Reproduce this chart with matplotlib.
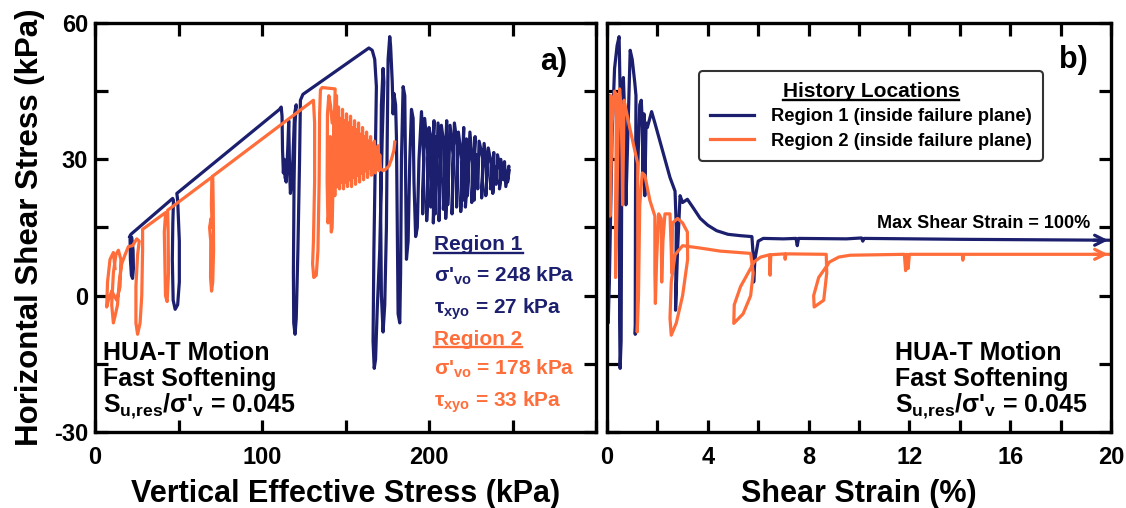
import numpy as np
import matplotlib.pyplot as plt
from matplotlib.lines import Line2D

plt.rcParams['font.family'] = ['Liberation Sans', 'DejaVu Sans']
plt.rcParams['font.weight'] = 'bold'
plt.rcParams['mathtext.fontset'] = 'custom'
plt.rcParams['mathtext.rm'] = 'Liberation Sans:bold'
plt.rcParams['mathtext.it'] = 'Liberation Sans:bold'
plt.rcParams['mathtext.bf'] = 'Liberation Sans:bold'
plt.rcParams['mathtext.sf'] = 'Liberation Sans:bold'

NAVY = '#1c1f6e'
ORANGE = '#ff6e3a'

# (a) stress path, Region 1: (vertical effective stress kPa, shear stress kPa)
r1_path = [
    (248, 27.5), (247, 25), (247.8, 28.5), (246, 24), (245.2, 29.5), (244.5, 25.5),
    (243, 30), (242.2, 23.5), (243.2, 27), (241, 31), (240.2, 24.5), (239, 28.5),
    (238.2, 22.5), (238.8, 31.5), (236.8, 23.5), (237.2, 29), (235.5, 32.5), (234, 22),
    (234.8, 27), (233, 33.5), (231.5, 21.5), (232.3, 30), (230, 34), (229.2, 23.5),
    (228.2, 31), (227, 21), (227.6, 35), (225.6, 20.5), (226, 29), (224.5, 36),
    (223, 22), (223.8, 32), (221.8, 19.5), (222.4, 34.5), (220.2, 21), (220.8, 37),
    (219, 18.5), (219.6, 30), (217.6, 36), (216.5, 19.5), (217, 33), (215.2, 38),
    (213.8, 18), (214.4, 31), (212.6, 37.5), (211.2, 20), (211.6, 35), (210, 17),
    (210.6, 38.5), (208.6, 19), (209, 33), (207.4, 37.5), (206, 16.5), (206.8, 30),
    (205.4, 38), (203.8, 18), (204.2, 35), (202.6, 16), (203, 38.5), (201, 19.5),
    (201.6, 34), (200, 37), (198.6, 16.5), (199.4, 31), (197.4, 39), (196.2, 18),
    (196.8, 30), (195.5, 40.5),
    (194, 30), (193, 15), (192, 13), (191, 25), (190.5, 39), (189.5, 41), (188.5, 30),
    (187.5, 12), (186.5, 8), (186, 25), (185.5, 44), (184.5, 46), (183.5, 30), (183, 5),
    (182.5, -6), (181.5, -4), (181, 15), (180.5, 35), (180, 42), (179, 44.5), (178.5, 40),
    (178, 47), (177, 55), (176.5, 57), (175.5, 52), (175, 35), (174.5, 15), (173.5, -2),
    (172.5, -8), (171.5, 0), (171, 20), (171.5, 42), (172.5, 50), (173, 47), (172, 35),
    (170.5, 10), (169, -3), (168, -14), (167.2, -16), (166.5, -10), (167, 10), (168, 35),
    (168.5, 46), (167.5, 52), (166, 54), (164, 54.5), (124.5, 44.3), (123, 43),
    (122.5, 30), (121.5, 10), (120.5, -5), (119.8, -8.5), (119, -6), (118.8, 5),
    (119.2, 25), (119.8, 38), (120.5, 42), (119.5, 40), (118.5, 30), (117.5, 24),
    (117, 22.5), (116.5, 28), (116, 38.5), (115.5, 33), (114.5, 25), (113.8, 26),
    (113.3, 30), (112.8, 27), (112.3, 32), (112, 39.5), (111.5, 41.5), (110.5, 41),
    (49, 22.5), (49.5, 21), (50.5, 12), (50.5, 3), (49.5, -2), (48, -3), (46.8, -1),
    (46.3, 8), (46.6, 16), (47, 21), (46.5, 21.4), (21.5, 13.5), (21, 12.5), (21.2, 8),
    (21.8, 4.5), (22.5, 3.8), (23, 6), (22.8, 10), (22, 12.8), (20.8, 13),
]

# (a) stress path, Region 2
r2_path = [
    (179.5, 33.8), (179, 32), (177.5, 30), (176, 28.5), (174, 27.8), (172.5, 27.5),
    (171, 28), (170.5, 31), (170, 27.5), (169.5, 33), (169, 28), (168.5, 32),
    (167.8, 27), (167.3, 34), (166.8, 28.5), (166.2, 33.5), (165.5, 26.5), (165, 35),
    (164.4, 28), (163.8, 34), (163.2, 26), (162.6, 36), (162, 27.5), (161.4, 35),
    (160.8, 25.5), (160.2, 37), (159.6, 27), (159, 35.5), (158.4, 25), (157.8, 38),
    (157.2, 26.5), (156.6, 36.5), (156, 24.5), (155.4, 38.5), (154.8, 26), (154.2, 37),
    (153.6, 24), (153, 39.5), (152.4, 25.5), (151.8, 38), (151.2, 24), (150.6, 40),
    (150, 25), (149.4, 38.5), (148.8, 23.5), (148.2, 41), (147.6, 25), (147, 39),
    (146.4, 23.5), (145.8, 41.5), (145.2, 24), (144.6, 44), (144, 30), (143.6, 22),
    (143, 40), (142.5, 24), (142, 15), (141.5, 14), (141, 20), (140.8, 35), (140.5, 28),
    (140, 18), (139.5, 16), (139, 25), (139.2, 40), (140, 44), (141, 42), (142, 38),
    (143.5, 41), (143.8, 45.5), (136, 45.8), (135, 45.3), (134.5, 40), (134.2, 25),
    (133.5, 10), (132.5, 4.5), (131, 4), (130.3, 7), (130.8, 12), (131.5, 25),
    (131.5, 38), (130.8, 43), (70.5, 26.3), (70.8, 20), (71, 10), (70.5, 3),
    (69.8, 1), (69.2, 4), (69.3, 12), (68.6, 15), (69.5, 17), (70.2, 15), (69.7, 20),
    (70, 26.1), (43.5, 18.8), (43.8, 14), (44, 5), (43.2, -1.3), (42.2, 0), (41.8, 8),
    (41.5, 14), (42.3, 18.3), (28.5, 14.6), (28.5, 10), (28, 0), (27, -6),
    (25.5, -8.5), (24.5, -6), (24.5, 2), (25.5, 9), (26.5, 12), (25, 12.5),
    (22.5, 11), (20, 10.8), (18, 9), (16, 7), (14.5, 3), (13.5, -2), (12, -4.5),
    (11, -6), (10, -2), (11, 5), (12.5, 9), (14, 10), (15.5, 8), (15, 2), (13, -1),
    (10, 1), (8, -1), (7, -2.5), (7.5, 3), (9, 8), (11, 9.5), (12, 6),
]

# (b) stress-strain, Region 1: (shear strain %, shear stress kPa)
r1_strain = [
    (0, 27), (0.05, 35), (0.1, 44), (0.15, 40), (0.08, 20), (0.05, -6), (0.1, 5),
    (0.2, 35), (0.3, 50), (0.4, 55), (0.48, 57), (0.52, 45), (0.5, 20), (0.5, -5),
    (0.52, -16), (0.56, -10), (0.58, 20), (0.6, 42), (0.65, 48), (0.7, 40), (0.75, 20),
    (0.8, 30), (0.92, 54), (1.0, 52), (1.1, 47), (1.15, 44), (1.13, 20), (1.12, -8.5),
    (1.17, -2), (1.2, 25), (1.3, 42), (1.36, 43), (1.4, 38), (1.43, 25), (1.47, 40),
    (1.5, 22), (1.55, 38), (1.6, 37), (1.77, 40.5), (1.9, 38), (2.1, 34), (2.3, 30),
    (2.5, 26), (2.7, 23), (2.75, 15), (2.72, -3.2), (2.8, 10), (2.9, 22), (3.0, 20.5),
    (3.19, 21.2), (3.4, 19.5), (3.7, 17), (4.0, 15.5), (4.35, 14.3), (4.8, 13.5),
    (5.3, 13.2), (5.75, 13), (5.8, 9), (5.82, 3), (5.87, 8), (6.0, 12), (6.2, 12.6),
    (7.0, 12.5), (7.5, 12.6), (7.55, 11), (7.6, 12.6), (9.5, 12.5), (10.1, 12.7),
    (10.15, 12.0), (10.2, 12.6), (14, 12.4), (17, 12.3), (20, 12.2),
]

# (b) stress-strain, Region 2
r2_strain = [
    (0, 33), (0.05, 20), (0.1, 40), (0.15, 44), (0.08, 25), (0.12, 17.5), (0.2, 38),
    (0.3, 45), (0.38, 44), (0.34, 20), (0.34, 4), (0.38, 15), (0.45, 40), (0.5, 45.5),
    (0.55, 42), (0.6, 30), (0.62, 20), (0.68, 43), (0.75, 41), (0.9, 37), (1.1, 32),
    (1.22, 29), (1.22, 10), (1.2, -8), (1.25, 0), (1.3, 20), (1.4, 27), (1.5, 26.5),
    (1.7, 21), (1.9, 17.5), (1.9, 5), (1.92, -1.7), (1.97, 8), (2.05, 18), (2.15, 17),
    (2.17, 3), (2.22, 12), (2.3, 18), (2.5, 18), (2.55, 10), (2.57, 5), (2.6, 16),
    (2.8, 17), (3.0, 16), (3.19, 14), (3.2, 8), (3.0, 0), (2.75, -6), (2.55, -8.7),
    (2.5, -5), (2.55, 3), (2.7, 9), (3.0, 11), (3.67, 10.5), (4.5, 9.8), (5.7, 9.3),
    (5.8, 5), (5.7, 0), (5.4, -4), (5.03, -6.1), (5.05, -2), (5.3, 2), (5.6, 5),
    (5.85, 7.5), (6.1, 8.5), (6.45, 9), (6.47, 4.5), (6.5, 9), (7.05, 9.2), (7.07, 8),
    (7.1, 9.2), (8.7, 9.1), (8.72, 5), (8.6, -1), (8.22, -2.5), (8.2, 0), (8.4, 4),
    (8.83, 7.4), (9.2, 8.5), (9.65, 8.9), (11.8, 9.1), (11.85, 5.5), (11.9, 9.1),
    (11.95, 6), (12, 9.1), (14.1, 9.1), (14.12, 7.8), (14.15, 9.1), (20, 9.1),
]

x1_ticks = [0, 50, 100, 150, 200, 250, 300]
x1_labels = ['0', '', '100', '', '200', '', '']
x2_ticks = [0, 2, 4, 6, 8, 10, 12, 14, 16, 18, 20]
x2_labels = ['0', '', '4', '', '8', '', '12', '', '16', '', '20']
y_ticks = [-30, -15, 0, 15, 30, 45, 60]
y_labels = ['-30', '', '0', '', '30', '', '60']


r1a = np.array(r1_path).T
r2a = np.array(r2_path).T
r1b = np.array(r1_strain).T
r2b = np.array(r2_strain).T

fig = plt.figure(figsize=(11.26, 5.08), dpi=100)
ax1 = fig.add_axes([95/1126, 76/508, 501/1126, 409/508])
ax2 = fig.add_axes([607/1126, 76/508, 504/1126, 409/508])

for ax in (ax1, ax2):
    for s in ax.spines.values():
        s.set_linewidth(2.4)
    ax.tick_params(direction='in', length=9, width=2.3, top=True, right=True,
                   labelsize=17, pad=10)
    ax.set_ylim(-30, 60)
    ax.set_yticks(y_ticks)

# panel a
ax1.plot(r1a[0], r1a[1], color=NAVY, lw=2.3)
ax1.plot(r2a[0], r2a[1], color=ORANGE, lw=2.3)
ax1.set_xlim(0, 300)
ax1.set_xticks(x1_ticks)
ax1.set_xticklabels(x1_labels)
ax1.set_yticklabels(y_labels)
ax1.tick_params(axis='y', pad=5)
ax1.set_xlabel('Vertical Effective Stress (kPa)', fontsize=22, fontweight='bold', labelpad=7)
ax1.set_ylabel('Horizontal Shear Stress (kPa)', fontsize=22.5, fontweight='bold', labelpad=6)

ax1.text(0.915, 0.905, 'a)', transform=ax1.transAxes, fontsize=22, ha='center', va='center')
underlined = []
t = ax1.text(0.677, 0.458, 'Region 1', transform=ax1.transAxes,
             fontsize=15, color=NAVY, va='center')
underlined.append((t, NAVY))
ax1.text(0.677, 0.383, "σ'$_{\\mathrm{vo}}$ = 248 kPa", transform=ax1.transAxes,
         fontsize=15, color=NAVY, va='center')
ax1.text(0.677, 0.300, "τ$_{\\mathrm{xyo}}$ = 27 kPa", transform=ax1.transAxes,
         fontsize=15, color=NAVY, va='center')
t = ax1.text(0.677, 0.227, 'Region 2', transform=ax1.transAxes,
             fontsize=15, color=ORANGE, va='center')
underlined.append((t, ORANGE))
ax1.text(0.677, 0.154, "σ'$_{\\mathrm{vo}}$ = 178 kPa", transform=ax1.transAxes,
         fontsize=15, color=ORANGE, va='center')
ax1.text(0.677, 0.073, "τ$_{\\mathrm{xyo}}$ = 33 kPa", transform=ax1.transAxes,
         fontsize=15, color=ORANGE, va='center')

# panel b
l1, = ax2.plot(r1b[0], r1b[1], color=NAVY, lw=2.3, label='Region 1 (inside failure plane)')
l2, = ax2.plot(r2b[0], r2b[1], color=ORANGE, lw=2.3, label='Region 2 (inside failure plane)')
for arr, c in ((r1b, NAVY), (r2b, ORANGE)):
    ax2.annotate('', xy=(arr[0][-1], arr[1][-1]), xytext=(arr[0][-1] - 0.8, arr[1][-1]),
                 arrowprops=dict(arrowstyle='->', color=c, lw=2.3, mutation_scale=18))
ax2.set_xlim(0, 20)
ax2.set_xticks(x2_ticks)
ax2.set_xticklabels(x2_labels)
ax2.set_yticklabels([])
ax2.set_xlabel('Shear Strain (%)', fontsize=22, fontweight='bold', labelpad=7)

ax2.text(0.925, 0.91, 'b)', transform=ax2.transAxes, fontsize=22, ha='center', va='center')
ax2.text(0.958, 0.51, 'Max Shear Strain = 100%', transform=ax2.transAxes,
         fontsize=13, ha='right', va='center')

leg = ax2.legend(handles=[l1, l2], loc='upper left', bbox_to_anchor=(0.165, 0.905),
                 title='History Locations',
                 prop={'size': 13.2, 'weight': 'bold'}, title_fontsize=15,
                 frameon=True, fancybox=True, edgecolor='black', handlelength=2.4,
                 borderpad=0.6, labelspacing=0.4, handletextpad=0.9)
leg.get_frame().set_linewidth(1.5)
leg.get_title().set_fontweight('bold')
underlined.append((leg.get_title(), 'black'))

for ax, x0 in ((ax1, 0.016), (ax2, 0.571)):
    ax.text(x0, 0.194, 'HUA-T Motion', transform=ax.transAxes, fontsize=18, va='center')
    ax.text(x0, 0.130, 'Fast Softening', transform=ax.transAxes, fontsize=18, va='center')
    ax.text(x0, 0.064, "S$_{\\mathrm{u{,}res}}$/σ'$_{\\mathrm{v}}$ = 0.045",
            transform=ax.transAxes, fontsize=18, va='center')

# underline a few texts by hand (mathtext has no \underline)
fig.canvas.draw()
rend = fig.canvas.get_renderer()
W, H = fig.bbox.width, fig.bbox.height
for txt, c in underlined:
    bb = txt.get_window_extent(rend)
    yl = (bb.y0 + 1.5) / H
    fig.add_artist(Line2D([bb.x0 / W, bb.x1 / W], [yl, yl], color=c, lw=1.7))

fig.savefig('out.png', dpi=100)
